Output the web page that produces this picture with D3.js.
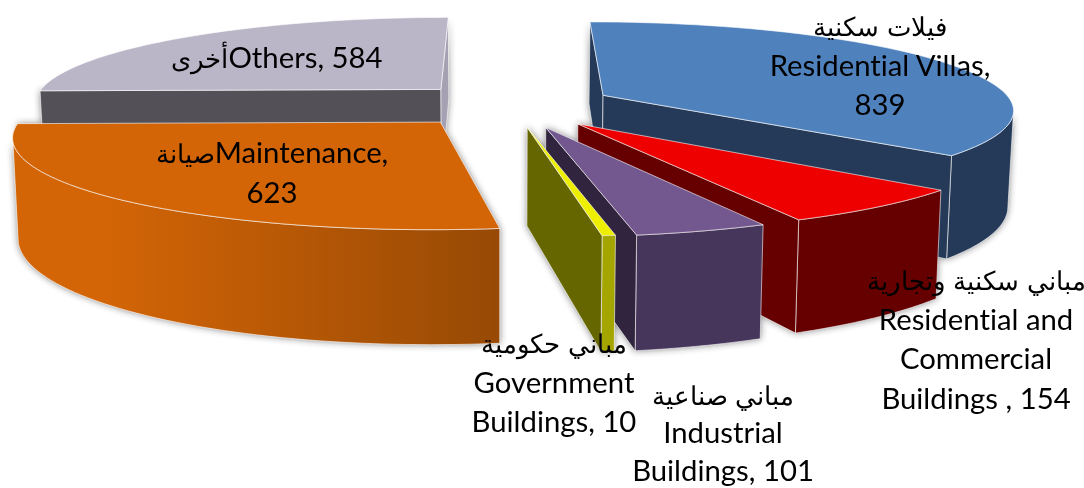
<!DOCTYPE html>
<html>
<head>
<meta charset="utf-8">
<script src="https://cdn.jsdelivr.net/npm/d3@7"></script>
<style>
  @font-face {
    font-family: "ArabicLabel";
    src: local("DejaVu Sans");
    unicode-range: U+0600-06FF;
    size-adjust: 90%;
  }
  body { margin: 0; background: #fff; }
  text { font-family: "ArabicLabel", Lato, "DejaVu Sans", sans-serif; font-size: 29.3px; fill: #000; font-variant-ligatures: no-common-ligatures; }
</style>
</head>
<body>
<svg id="chart" width="1084" height="488"></svg>
<script>
// data, clockwise from 12 o'clock
var categories = ["Residential Villas", "Residential and Commercial Buildings", "Industrial Buildings", "Government Buildings", "Maintenance", "Others"];
var values = [839, 154, 101, 10, 623, 584];

// label text per slice, one entry per line
var labelLines = [
  ["فيلات سكنية", "Residential Villas,", "839"],
  ["مباني سكنية وتجارية", "Residential and", "Commercial", "Buildings , 154"],
  ["مباني صناعية", "Industrial", "Buildings, 101"],
  ["مباني حكومية", "Government", "Buildings, 10"],
  ["صيانةMaintenance,", "623"],
  ["أخرىOthers, 584"]
];

// layout of the labels (centre x, first baseline, line spacing)
var labelX = [880, 976, 723, 554, 272, 277];
var labelY = [36, 290, 405, 353, 163, 68];
var lineGap = [39.5, 39.5, 38, 39.5, 39.5, 39.5];

var topColors = ["#4f81bd", "#ee0000", "#72588e", "#eeee00", "#d46506", "#bbb5c8"];
var rimColors = ["#243a58", "#660000", "#47365c", "#a5a500", "url(#orangeWall)", "#8f8a9a"];
var startColors = ["#243a58", "#660000", "#30243f", "#666600", "#d46506", "#545058"];
var endColors = ["#243a58", "#660000", "#30243f", "#666600", "#984a05", "#a5a0b2"];

// small screen nudges per slice
var shiftX = [1, 3, 3, 0, -2, 2];
var shiftY = [0, 2, 2, 1, 1, 0];

// slices are painted back to front
var paintOrder = [5, 0, 1, 2, 3, 4];

// perspective: the ground plane is a homography with vanishing point (vx, vy)
var vx = 498, vy = -490;
var depthRatio = 1.16;
var squeeze = 0.989;
var explode = 0.25;

var planeU = d3.scaleLinear().domain([-1, 1]).range([0.021 - 0.69, 0.021 + 0.69]);
var planeV = d3.scaleLinear().domain([-1, 1]).range([0.001683 - 0.000245, 0.001683 + 0.000245]);

function project(dx, dy, bottom) {
  var u = planeU(dx), eta = 1 / planeV(dy);
  if (bottom) return [vx + u * eta * squeeze, vy + eta * depthRatio];
  return [vx + u * eta, vy + eta];
}

var svg = d3.select("#chart");

var grad = svg.append("defs").append("linearGradient")
  .attr("id", "orangeWall").attr("gradientUnits", "userSpaceOnUse")
  .attr("x1", 100).attr("x2", 498).attr("y1", 0).attr("y2", 0);
grad.append("stop").attr("offset", 0).attr("stop-color", "#d46506");
grad.append("stop").attr("offset", 1).attr("stop-color", "#984a05");

svg.select("defs").append("filter").attr("id", "blur")
  .attr("x", "-10%").attr("y", "-10%").attr("width", "120%").attr("height", "120%")
  .append("feGaussianBlur").attr("stdDeviation", 3.5);

var pie = d3.pie().sort(null).startAngle(0).endAngle(2 * Math.PI);
var arcs = pie(values);

var line = d3.line();
function poly(pts) { return line(pts) + "Z"; }

var slices = arcs.map(function(a) {
  var mid = (a.startAngle + a.endAngle) / 2;
  var ox = explode * Math.sin(mid), oy = explode * Math.cos(mid);
  var steps = d3.range(0, 61).map(function(i) {
    return a.startAngle + (a.endAngle - a.startAngle) * i / 60;
  });
  function pt(t, bottom) { return project(ox + Math.sin(t), oy + Math.cos(t), bottom); }
  var apex = project(ox, oy, false), apexB = project(ox, oy, true);
  var rimTop = steps.map(function(t) { return pt(t, false); });
  var rimBot = steps.map(function(t) { return pt(t, true); });

  // the part of the rim that faces the viewer
  var shown = steps.filter(function(t, i) {
    if (i == 60) return d3.polygonArea([rimTop[59], rimTop[60], rimBot[60], rimBot[59]]) > 0;
    return d3.polygonArea([rimTop[i], rimTop[i + 1], rimBot[i + 1], rimBot[i]]) > 0;
  });

  return {
    top: [apex].concat(rimTop),
    rim: shown.length ? shown.map(function(t) { return pt(t, false); })
      .concat(shown.slice().reverse().map(function(t) { return pt(t, true); })) : null,
    startWall: [apex, rimTop[0], rimBot[0], apexB],
    endWall: [apex, rimTop[60], rimBot[60], apexB]
  };
});

function shift(i) { return "translate(" + shiftX[i] + "," + shiftY[i] + ")"; }

// soft shadow under everything
var shadow = svg.append("g").attr("filter", "url(#blur)").attr("opacity", 0.55);
slices.forEach(function(s, i) {
  [s.rim, s.startWall, s.endWall].forEach(function(p) {
    if (p) shadow.append("path").attr("d", poly(p)).attr("fill", "#222").attr("transform", shift(i));
  });
});

var edge = "rgba(255,255,255,0.6)";

paintOrder.forEach(function(i) {
  var s = slices[i];
  var g = svg.append("g").attr("class", "slice").attr("transform", shift(i))
    .attr("stroke", edge).attr("stroke-width", 1).attr("stroke-linejoin", "round");
  if (d3.polygonArea(s.startWall) > 0) {
    g.append("path").attr("d", poly(s.startWall)).attr("fill", startColors[i]);
  }
  if (s.rim) g.append("path").attr("d", poly(s.rim)).attr("fill", rimColors[i]);
  if (d3.polygonArea(s.endWall) < 0) {
    g.append("path").attr("d", poly(s.endWall)).attr("fill", endColors[i]);
  }
  g.append("path").attr("d", poly(s.top)).attr("fill", topColors[i]);
});

var labels = svg.append("g").attr("class", "labels");
labelLines.forEach(function(lines, i) {
  labels.selectAll(null).data(lines).enter().append("text")
    .attr("x", labelX[i])
    .attr("y", function(d, k) { return labelY[i] + k * lineGap[i]; })
    .attr("text-anchor", "middle")
    .text(function(d) { return d; });
});
</script>
</body>
</html>
